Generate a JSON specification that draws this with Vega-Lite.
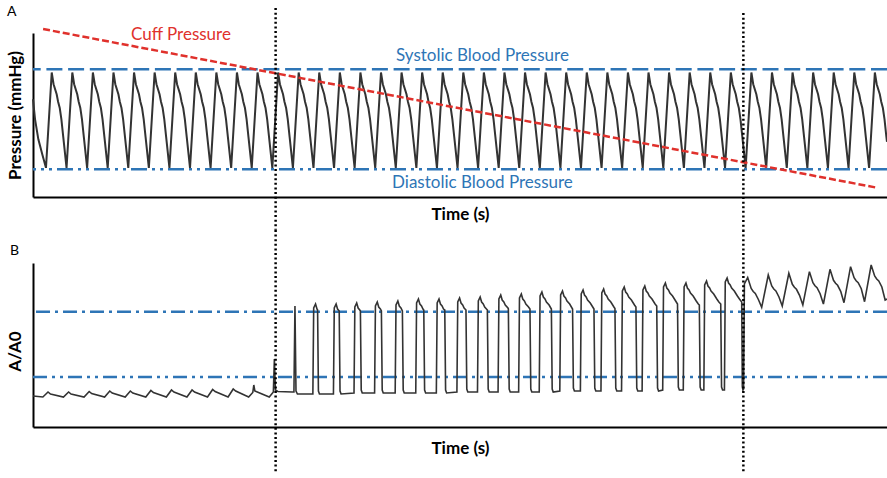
{
"$schema": "https://vega.github.io/schema/vega-lite/v6.json",
"padding": {"left": 5, "top": 5, "right": 0, "bottom": 0},
"bounds": "flush",
"spacing": 66,
"config": {
  "view": {"stroke": null},
  "font": "Lato",
  "axis": {"labels": false, "ticks": false, "grid": false, "domainColor": "#000000", "domainWidth": 2, "titleFont": "Lato", "titleFontSize": 17, "titleFontWeight": "bold", "titleColor": "#000000"},
  "title": {"font": "Lato", "fontSize": 14, "fontWeight": "normal", "color": "#000000", "anchor": "start", "frame": "group"}
},
"datasets": {
  "aWave": [
    {"t":0,"p":108},{"t":0.1,"p":100},{"t":0.26,"p":92},{"t":0.45,"p":86},
    {"t":0.63,"p":80.6},{"t":0.91,"p":118.7},{"t":1,"p":114},{"t":1.15,"p":110},{"t":1.22,"p":107},{"t":1.3,"p":104.5},{"t":1.38,"p":100},{"t":1.47,"p":93},
    {"t":1.63,"p":80.6},{"t":1.91,"p":118.7},{"t":2,"p":114},{"t":2.15,"p":110},{"t":2.22,"p":107},{"t":2.3,"p":104.5},{"t":2.38,"p":100},{"t":2.47,"p":93},
    {"t":2.63,"p":80.6},{"t":2.91,"p":118.7},{"t":3,"p":114},{"t":3.15,"p":110},{"t":3.22,"p":107},{"t":3.3,"p":104.5},{"t":3.38,"p":100},{"t":3.47,"p":93},
    {"t":3.63,"p":80.6},{"t":3.91,"p":118.7},{"t":4,"p":114},{"t":4.15,"p":110},{"t":4.22,"p":107},{"t":4.3,"p":104.5},{"t":4.38,"p":100},{"t":4.47,"p":93},
    {"t":4.63,"p":80.6},{"t":4.91,"p":118.7},{"t":5,"p":114},{"t":5.15,"p":110},{"t":5.22,"p":107},{"t":5.3,"p":104.5},{"t":5.38,"p":100},{"t":5.47,"p":93},
    {"t":5.63,"p":80.6},{"t":5.91,"p":118.7},{"t":6,"p":114},{"t":6.15,"p":110},{"t":6.22,"p":107},{"t":6.3,"p":104.5},{"t":6.38,"p":100},{"t":6.47,"p":93},
    {"t":6.63,"p":80.6},{"t":6.91,"p":118.7},{"t":7,"p":114},{"t":7.15,"p":110},{"t":7.22,"p":107},{"t":7.3,"p":104.5},{"t":7.38,"p":100},{"t":7.47,"p":93},
    {"t":7.63,"p":80.6},{"t":7.91,"p":118.7},{"t":8,"p":114},{"t":8.15,"p":110},{"t":8.22,"p":107},{"t":8.3,"p":104.5},{"t":8.38,"p":100},{"t":8.47,"p":93},
    {"t":8.63,"p":80.6},{"t":8.91,"p":118.7},{"t":9,"p":114},{"t":9.15,"p":110},{"t":9.22,"p":107},{"t":9.3,"p":104.5},{"t":9.38,"p":100},{"t":9.47,"p":93},
    {"t":9.63,"p":80.6},{"t":9.91,"p":118.7},{"t":10,"p":114},{"t":10.15,"p":110},{"t":10.22,"p":107},{"t":10.3,"p":104.5},{"t":10.38,"p":100},{"t":10.47,"p":93},
    {"t":10.63,"p":80.6},{"t":10.91,"p":118.7},{"t":11,"p":114},{"t":11.15,"p":110},{"t":11.22,"p":107},{"t":11.3,"p":104.5},{"t":11.38,"p":100},{"t":11.47,"p":93},
    {"t":11.63,"p":80.6},{"t":11.91,"p":118.7},{"t":12,"p":114},{"t":12.15,"p":110},{"t":12.22,"p":107},{"t":12.3,"p":104.5},{"t":12.38,"p":100},{"t":12.47,"p":93},
    {"t":12.63,"p":80.6},{"t":12.91,"p":118.7},{"t":13,"p":114},{"t":13.15,"p":110},{"t":13.22,"p":107},{"t":13.3,"p":104.5},{"t":13.38,"p":100},{"t":13.47,"p":93},
    {"t":13.63,"p":80.6},{"t":13.91,"p":118.7},{"t":14,"p":114},{"t":14.15,"p":110},{"t":14.22,"p":107},{"t":14.3,"p":104.5},{"t":14.38,"p":100},{"t":14.47,"p":93},
    {"t":14.63,"p":80.6},{"t":14.91,"p":118.7},{"t":15,"p":114},{"t":15.15,"p":110},{"t":15.22,"p":107},{"t":15.3,"p":104.5},{"t":15.38,"p":100},{"t":15.47,"p":93},
    {"t":15.63,"p":80.6},{"t":15.91,"p":118.7},{"t":16,"p":114},{"t":16.15,"p":110},{"t":16.22,"p":107},{"t":16.3,"p":104.5},{"t":16.38,"p":100},{"t":16.47,"p":93},
    {"t":16.63,"p":80.6},{"t":16.91,"p":118.7},{"t":17,"p":114},{"t":17.15,"p":110},{"t":17.22,"p":107},{"t":17.3,"p":104.5},{"t":17.38,"p":100},{"t":17.47,"p":93},
    {"t":17.63,"p":80.6},{"t":17.91,"p":118.7},{"t":18,"p":114},{"t":18.15,"p":110},{"t":18.22,"p":107},{"t":18.3,"p":104.5},{"t":18.38,"p":100},{"t":18.47,"p":93},
    {"t":18.63,"p":80.6},{"t":18.91,"p":118.7},{"t":19,"p":114},{"t":19.15,"p":110},{"t":19.22,"p":107},{"t":19.3,"p":104.5},{"t":19.38,"p":100},{"t":19.47,"p":93},
    {"t":19.63,"p":80.6},{"t":19.91,"p":118.7},{"t":20,"p":114},{"t":20.15,"p":110},{"t":20.22,"p":107},{"t":20.3,"p":104.5},{"t":20.38,"p":100},{"t":20.47,"p":93},
    {"t":20.63,"p":80.6},{"t":20.91,"p":118.7},{"t":21,"p":114},{"t":21.15,"p":110},{"t":21.22,"p":107},{"t":21.3,"p":104.5},{"t":21.38,"p":100},{"t":21.47,"p":93},
    {"t":21.63,"p":80.6},{"t":21.91,"p":118.7},{"t":22,"p":114},{"t":22.15,"p":110},{"t":22.22,"p":107},{"t":22.3,"p":104.5},{"t":22.38,"p":100},{"t":22.47,"p":93},
    {"t":22.63,"p":80.6},{"t":22.91,"p":118.7},{"t":23,"p":114},{"t":23.15,"p":110},{"t":23.22,"p":107},{"t":23.3,"p":104.5},{"t":23.38,"p":100},{"t":23.47,"p":93},
    {"t":23.63,"p":80.6},{"t":23.91,"p":118.7},{"t":24,"p":114},{"t":24.15,"p":110},{"t":24.22,"p":107},{"t":24.3,"p":104.5},{"t":24.38,"p":100},{"t":24.47,"p":93},
    {"t":24.63,"p":80.6},{"t":24.91,"p":118.7},{"t":25,"p":114},{"t":25.15,"p":110},{"t":25.22,"p":107},{"t":25.3,"p":104.5},{"t":25.38,"p":100},{"t":25.47,"p":93},
    {"t":25.63,"p":80.6},{"t":25.91,"p":118.7},{"t":26,"p":114},{"t":26.15,"p":110},{"t":26.22,"p":107},{"t":26.3,"p":104.5},{"t":26.38,"p":100},{"t":26.47,"p":93},
    {"t":26.63,"p":80.6},{"t":26.91,"p":118.7},{"t":27,"p":114},{"t":27.15,"p":110},{"t":27.22,"p":107},{"t":27.3,"p":104.5},{"t":27.38,"p":100},{"t":27.47,"p":93},
    {"t":27.63,"p":80.6},{"t":27.91,"p":118.7},{"t":28,"p":114},{"t":28.15,"p":110},{"t":28.22,"p":107},{"t":28.3,"p":104.5},{"t":28.38,"p":100},{"t":28.47,"p":93},
    {"t":28.63,"p":80.6},{"t":28.91,"p":118.7},{"t":29,"p":114},{"t":29.15,"p":110},{"t":29.22,"p":107},{"t":29.3,"p":104.5},{"t":29.38,"p":100},{"t":29.47,"p":93},
    {"t":29.63,"p":80.6},{"t":29.91,"p":118.7},{"t":30,"p":114},{"t":30.15,"p":110},{"t":30.22,"p":107},{"t":30.3,"p":104.5},{"t":30.38,"p":100},{"t":30.47,"p":93},
    {"t":30.63,"p":80.6},{"t":30.91,"p":118.7},{"t":31,"p":114},{"t":31.15,"p":110},{"t":31.22,"p":107},{"t":31.3,"p":104.5},{"t":31.38,"p":100},{"t":31.47,"p":93},
    {"t":31.63,"p":80.6},{"t":31.91,"p":118.7},{"t":32,"p":114},{"t":32.15,"p":110},{"t":32.22,"p":107},{"t":32.3,"p":104.5},{"t":32.38,"p":100},{"t":32.47,"p":93},
    {"t":32.63,"p":80.6},{"t":32.91,"p":118.7},{"t":33,"p":114},{"t":33.15,"p":110},{"t":33.22,"p":107},{"t":33.3,"p":104.5},{"t":33.38,"p":100},{"t":33.47,"p":93},
    {"t":33.63,"p":80.6},{"t":33.91,"p":118.7},{"t":34,"p":114},{"t":34.15,"p":110},{"t":34.22,"p":107},{"t":34.3,"p":104.5},{"t":34.38,"p":100},{"t":34.47,"p":93},
    {"t":34.63,"p":80.6},{"t":34.91,"p":118.7},{"t":35,"p":114},{"t":35.15,"p":110},{"t":35.22,"p":107},{"t":35.3,"p":104.5},{"t":35.38,"p":100},{"t":35.47,"p":93},
    {"t":35.63,"p":80.6},{"t":35.91,"p":118.7},{"t":36,"p":114},{"t":36.15,"p":110},{"t":36.22,"p":107},{"t":36.3,"p":104.5},{"t":36.38,"p":100},{"t":36.47,"p":93},
    {"t":36.63,"p":80.6},{"t":36.91,"p":118.7},{"t":37,"p":114},{"t":37.15,"p":110},{"t":37.22,"p":107},{"t":37.3,"p":104.5},{"t":37.38,"p":100},{"t":37.47,"p":93},
    {"t":37.63,"p":80.6},{"t":37.91,"p":118.7},{"t":38,"p":114},{"t":38.15,"p":110},{"t":38.22,"p":107},{"t":38.3,"p":104.5},{"t":38.38,"p":100},{"t":38.47,"p":93},
    {"t":38.63,"p":80.6},{"t":38.91,"p":118.7},{"t":39,"p":114},{"t":39.15,"p":110},{"t":39.22,"p":107},{"t":39.3,"p":104.5},{"t":39.38,"p":100},{"t":39.47,"p":93},
    {"t":39.63,"p":80.6},{"t":39.91,"p":118.7},{"t":40,"p":114},{"t":40.15,"p":110},{"t":40.22,"p":107},{"t":40.3,"p":104.5},{"t":40.38,"p":100},{"t":40.47,"p":93},
    {"t":40.63,"p":80.6},{"t":40.91,"p":118.7},{"t":41,"p":114},{"t":41.15,"p":110},{"t":41.22,"p":107},{"t":41.3,"p":104.5},{"t":41.38,"p":100},{"t":41.47,"p":93},
    {"t":41.5,"p":91}
  ],
  "bWave": [
    {"t":0,"v":0.31},
    {"t":0.48,"v":0.3},{"t":0.73,"v":0.35},{"t":0.85,"v":0.33},
    {"t":1.48,"v":0.3},{"t":1.73,"v":0.35},{"t":1.85,"v":0.33},
    {"t":2.48,"v":0.3},{"t":2.73,"v":0.355},{"t":2.85,"v":0.335},
    {"t":3.48,"v":0.3},{"t":3.73,"v":0.36},{"t":3.85,"v":0.34},
    {"t":4.48,"v":0.3},{"t":4.73,"v":0.36},{"t":4.85,"v":0.34},
    {"t":5.48,"v":0.3},{"t":5.73,"v":0.365},{"t":5.85,"v":0.345},
    {"t":6.48,"v":0.3},{"t":6.73,"v":0.37},{"t":6.85,"v":0.35},
    {"t":7.48,"v":0.3},{"t":7.73,"v":0.37},{"t":7.85,"v":0.35},
    {"t":8.48,"v":0.3},{"t":8.73,"v":0.375},{"t":8.85,"v":0.355},
    {"t":9.48,"v":0.3},{"t":9.73,"v":0.38},{"t":9.85,"v":0.36},
    {"t":10.48,"v":0.3},{"t":10.68,"v":0.345},{"t":10.73,"v":0.42},{"t":10.78,"v":0.36},{"t":10.9,"v":0.35},
    {"t":11.48,"v":0.3},{"t":11.68,"v":0.35},{"t":11.73,"v":0.68},{"t":11.78,"v":0.37},{"t":11.9,"v":0.355},
    {"t":12.6,"v":0.35},{"t":12.68,"v":0.35},{"t":12.73,"v":1.21},{"t":12.78,"v":0.36},{"t":12.85,"v":0.33},
    {"t":13.6,"v":0.33},{"t":13.64,"v":1.19},{"t":13.73,"v":1.23},{"t":13.8,"v":1.18},{"t":13.83,"v":1.17},{"t":13.87,"v":0.36},{"t":13.92,"v":0.33},
    {"t":14.6,"v":0.33},{"t":14.64,"v":1.19},{"t":14.73,"v":1.23},{"t":14.8,"v":1.18},{"t":14.88,"v":1.16},{"t":14.92,"v":0.36},{"t":14.97,"v":0.33},
    {"t":15.6,"v":0.34},{"t":15.64,"v":1.2},{"t":15.73,"v":1.24},{"t":15.8,"v":1.19},{"t":15.88,"v":1.17},{"t":15.91,"v":1.16},{"t":15.95,"v":0.37},{"t":16,"v":0.34},
    {"t":16.6,"v":0.34},{"t":16.64,"v":1.21},{"t":16.73,"v":1.25},{"t":16.8,"v":1.2},{"t":16.88,"v":1.18},{"t":16.93,"v":1.16},{"t":16.97,"v":0.37},{"t":17.02,"v":0.34},
    {"t":17.6,"v":0.34},{"t":17.64,"v":1.22},{"t":17.73,"v":1.26},{"t":17.8,"v":1.21},{"t":17.88,"v":1.19},{"t":17.95,"v":1.16},{"t":17.99,"v":0.37},{"t":18.04,"v":0.34},
    {"t":18.6,"v":0.34},{"t":18.64,"v":1.24},{"t":18.73,"v":1.28},{"t":18.8,"v":1.23},{"t":18.88,"v":1.21},{"t":18.95,"v":1.18},{"t":18.99,"v":1.17},{"t":19.03,"v":0.37},{"t":19.08,"v":0.34},
    {"t":19.6,"v":0.34},{"t":19.64,"v":1.24},{"t":19.73,"v":1.28},{"t":19.8,"v":1.23},{"t":19.88,"v":1.21},{"t":19.95,"v":1.18},{"t":20.01,"v":1.17},{"t":20.05,"v":0.37},{"t":20.1,"v":0.34},
    {"t":20.6,"v":0.35},{"t":20.64,"v":1.25},{"t":20.73,"v":1.29},{"t":20.8,"v":1.24},{"t":20.88,"v":1.22},{"t":20.95,"v":1.19},{"t":21.04,"v":1.17},{"t":21.08,"v":0.38},{"t":21.13,"v":0.35},
    {"t":21.6,"v":0.35},{"t":21.64,"v":1.26},{"t":21.73,"v":1.3},{"t":21.8,"v":1.25},{"t":21.88,"v":1.23},{"t":21.95,"v":1.2},{"t":22.08,"v":1.17},{"t":22.12,"v":0.38},{"t":22.17,"v":0.35},
    {"t":22.6,"v":0.35},{"t":22.64,"v":1.28},{"t":22.73,"v":1.32},{"t":22.8,"v":1.27},{"t":22.88,"v":1.25},{"t":22.95,"v":1.22},{"t":23.08,"v":1.19},{"t":23.1,"v":1.18},{"t":23.14,"v":0.38},{"t":23.19,"v":0.35},
    {"t":23.6,"v":0.35},{"t":23.64,"v":1.29},{"t":23.73,"v":1.33},{"t":23.8,"v":1.28},{"t":23.88,"v":1.26},{"t":23.95,"v":1.23},{"t":24.08,"v":1.2},{"t":24.15,"v":1.18},{"t":24.19,"v":0.38},{"t":24.24,"v":0.35},
    {"t":24.6,"v":0.35},{"t":24.64,"v":1.31},{"t":24.73,"v":1.35},{"t":24.8,"v":1.3},{"t":24.88,"v":1.28},{"t":24.95,"v":1.25},{"t":25.08,"v":1.22},{"t":25.19,"v":1.18},{"t":25.23,"v":0.38},{"t":25.28,"v":0.35},
    {"t":25.6,"v":0.36},{"t":25.64,"v":1.32},{"t":25.73,"v":1.36},{"t":25.8,"v":1.31},{"t":25.88,"v":1.29},{"t":25.95,"v":1.26},{"t":26.08,"v":1.23},{"t":26.22,"v":1.18},{"t":26.26,"v":0.39},{"t":26.31,"v":0.36},
    {"t":26.6,"v":0.36},{"t":26.64,"v":1.33},{"t":26.73,"v":1.37},{"t":26.8,"v":1.32},{"t":26.88,"v":1.3},{"t":26.95,"v":1.27},{"t":27.08,"v":1.24},{"t":27.23,"v":1.19},{"t":27.26,"v":1.18},{"t":27.3,"v":0.39},{"t":27.35,"v":0.36},
    {"t":27.6,"v":0.36},{"t":27.64,"v":1.34},{"t":27.73,"v":1.38},{"t":27.8,"v":1.33},{"t":27.88,"v":1.31},{"t":27.95,"v":1.28},{"t":28.08,"v":1.25},{"t":28.23,"v":1.2},{"t":28.28,"v":1.185},{"t":28.32,"v":0.39},{"t":28.37,"v":0.36},
    {"t":28.6,"v":0.36},{"t":28.64,"v":1.36},{"t":28.73,"v":1.4},{"t":28.8,"v":1.35},{"t":28.88,"v":1.33},{"t":28.95,"v":1.3},{"t":29.08,"v":1.27},{"t":29.23,"v":1.22},{"t":29.3,"v":1.2},{"t":29.34,"v":0.39},{"t":29.39,"v":0.36},
    {"t":29.6,"v":0.36},{"t":29.64,"v":1.37},{"t":29.73,"v":1.41},{"t":29.8,"v":1.36},{"t":29.88,"v":1.34},{"t":29.95,"v":1.31},{"t":30.08,"v":1.28},{"t":30.23,"v":1.23},{"t":30.31,"v":1.21},{"t":30.35,"v":0.39},{"t":30.4,"v":0.36},
    {"t":30.6,"v":0.37},{"t":30.64,"v":1.4},{"t":30.73,"v":1.44},{"t":30.8,"v":1.39},{"t":30.88,"v":1.37},{"t":30.95,"v":1.34},{"t":31.08,"v":1.31},{"t":31.23,"v":1.26},{"t":31.32,"v":1.23},{"t":31.36,"v":0.4},{"t":31.41,"v":0.37},
    {"t":31.6,"v":0.37},{"t":31.64,"v":1.4},{"t":31.73,"v":1.44},{"t":31.8,"v":1.39},{"t":31.88,"v":1.37},{"t":31.95,"v":1.34},{"t":32.08,"v":1.31},{"t":32.23,"v":1.26},{"t":32.33,"v":1.23},{"t":32.38,"v":1.22},{"t":32.42,"v":0.4},{"t":32.47,"v":0.37},
    {"t":32.6,"v":0.37},{"t":32.64,"v":1.42},{"t":32.73,"v":1.46},{"t":32.8,"v":1.41},{"t":32.88,"v":1.39},{"t":32.95,"v":1.36},{"t":33.08,"v":1.33},{"t":33.23,"v":1.28},{"t":33.33,"v":1.25},{"t":33.42,"v":1.23},{"t":33.46,"v":0.4},{"t":33.51,"v":0.37},
    {"t":33.6,"v":0.37},{"t":33.64,"v":1.45},{"t":33.73,"v":1.49},{"t":33.8,"v":1.44},{"t":33.88,"v":1.42},{"t":33.95,"v":1.39},{"t":34.08,"v":1.36},{"t":34.23,"v":1.31},{"t":34.33,"v":1.28},{"t":34.44,"v":1.25},{"t":34.47,"v":0.4},{"t":34.5,"v":0.37},
    {"t":34.53,"v":0.38},{"t":34.57,"v":1.43},{"t":34.73,"v":1.495},{"t":34.9,"v":1.385},{"t":35,"v":1.355},{"t":35.1,"v":1.335},{"t":35.25,"v":1.275},{"t":35.41,"v":1.197},
    {"t":35.73,"v":1.52},{"t":35.9,"v":1.41},{"t":36,"v":1.38},{"t":36.1,"v":1.36},{"t":36.25,"v":1.3},{"t":36.41,"v":1.21},
    {"t":36.73,"v":1.537},{"t":36.9,"v":1.427},{"t":37,"v":1.397},{"t":37.1,"v":1.377},{"t":37.25,"v":1.317},{"t":37.41,"v":1.22},
    {"t":37.73,"v":1.553},{"t":37.9,"v":1.443},{"t":38,"v":1.413},{"t":38.1,"v":1.393},{"t":38.25,"v":1.333},{"t":38.41,"v":1.23},
    {"t":38.73,"v":1.577},{"t":38.9,"v":1.467},{"t":39,"v":1.437},{"t":39.1,"v":1.417},{"t":39.25,"v":1.357},{"t":39.41,"v":1.243},
    {"t":39.73,"v":1.603},{"t":39.9,"v":1.493},{"t":40,"v":1.463},{"t":40.1,"v":1.443},{"t":40.25,"v":1.383},{"t":40.41,"v":1.253},
    {"t":40.73,"v":1.62},{"t":40.9,"v":1.51},{"t":41,"v":1.48},{"t":41.1,"v":1.46},{"t":41.25,"v":1.4},{"t":41.41,"v":1.27},{"t":41.5,"v":1.28}
  ],
  "cuff": [{"t":0.49,"p":136.07},{"t":41.01,"p":72.66}],
  "aMarkers": [{"t":11.79,"top":144.45,"bottom":55.91},{"t":34.52,"top":142.45,"bottom":55.91}],
  "bMarkers": [{"t":11.79,"top":1.97,"bottom":-0.46},{"t":34.52,"top":1.97,"bottom":-0.45}]
},
"vconcat": [
  {
    "width": 854,
    "height": 164,
    "title": {"text": "A", "dx": -26, "dy": 23.5, "offset": 0, "baseline": "alphabetic"},
    "layer": [
      {
        "data": {"values": [{"p": 120}]},
        "mark": {"type": "rule", "stroke": "#2e75b6", "strokeWidth": 2.5, "strokeDash": [16, 5.7]},
        "encoding": {"y": {"field": "p", "type": "quantitative", "scale": {"domain": [68.95, 134.48], "nice": false, "zero": false}, "axis": {"title": "Pressure (mmHg)", "titlePadding": 9}}}
      },
      {
        "data": {"values": [{"p": 80}]},
        "mark": {"type": "rule", "stroke": "#2e75b6", "strokeWidth": 2.5, "strokeDash": [16, 5, 3, 5, 3, 5]},
        "encoding": {"y": {"field": "p", "type": "quantitative", "axis": {"title": "Pressure (mmHg)", "titlePadding": 9}}}
      },
      {
        "data": {"name": "aWave"},
        "mark": {"type": "line", "stroke": "#333333", "strokeWidth": 2},
        "encoding": {
          "x": {"field": "t", "type": "quantitative", "scale": {"domain": [0, 41.5], "nice": false, "zero": false}, "axis": {"title": "Time (s)", "titlePadding": 9}},
          "y": {"field": "p", "type": "quantitative", "axis": {"title": "Pressure (mmHg)", "titlePadding": 9}}
        }
      },
      {
        "data": {"name": "cuff"},
        "mark": {"type": "line", "stroke": "#e0312c", "strokeWidth": 2.5, "strokeDash": [7, 3]},
        "encoding": {"x": {"field": "t", "type": "quantitative", "axis": {"title": "Time (s)", "titlePadding": 9}}, "y": {"field": "p", "type": "quantitative", "axis": {"title": "Pressure (mmHg)", "titlePadding": 9}}}
      },
      {
        "data": {"name": "aMarkers"},
        "mark": {"type": "rule", "stroke": "#000000", "strokeWidth": 2.5, "strokeDash": [2, 2.6]},
        "encoding": {"x": {"field": "t", "type": "quantitative", "axis": {"title": "Time (s)", "titlePadding": 9}}, "y": {"field": "top", "type": "quantitative", "axis": {"title": "Pressure (mmHg)", "titlePadding": 9}}, "y2": {"field": "bottom"}}
      },
      {
        "data": {"values": [{"t": 7.19, "p": 131.88, "label": "Cuff Pressure"}]},
        "mark": {"type": "text", "color": "#e0312c", "font": "Lato", "fontSize": 17, "align": "center", "baseline": "alphabetic"},
        "encoding": {"x": {"field": "t", "type": "quantitative", "axis": {"title": "Time (s)", "titlePadding": 9}}, "y": {"field": "p", "type": "quantitative", "axis": {"title": "Pressure (mmHg)", "titlePadding": 9}}, "text": {"field": "label"}}
      },
      {
        "data": {"values": [{"t": 21.84, "p": 123.43, "label": "Systolic Blood Pressure"}, {"t": 21.84, "p": 72.54, "label": "Diastolic Blood Pressure"}]},
        "mark": {"type": "text", "color": "#2e75b6", "font": "Lato", "fontSize": 17, "align": "center", "baseline": "alphabetic"},
        "encoding": {"x": {"field": "t", "type": "quantitative", "axis": {"title": "Time (s)", "titlePadding": 9}}, "y": {"field": "p", "type": "quantitative", "axis": {"title": "Pressure (mmHg)", "titlePadding": 9}}, "text": {"field": "label"}}
      }
    ]
  },
  {
    "width": 854,
    "height": 164,
    "title": {"text": "B", "dx": -23, "dy": 39.9, "offset": 0, "baseline": "alphabetic"},
    "layer": [
      {
        "data": {"values": [{"v": 1.152}]},
        "mark": {"type": "rule", "stroke": "#2e75b6", "strokeWidth": 2.5, "strokeDash": [14, 5, 3, 5]},
        "encoding": {"y": {"field": "v", "type": "quantitative", "scale": {"domain": [0, 1.64], "nice": false, "zero": false}, "axis": {"title": "A/A0", "titlePadding": 9, "titleY": 88}}}
      },
      {
        "data": {"values": [{"v": 0.5}]},
        "mark": {"type": "rule", "stroke": "#2e75b6", "strokeWidth": 2.5, "strokeDash": [14, 5, 3, 5, 3, 5]},
        "encoding": {"y": {"field": "v", "type": "quantitative", "axis": {"title": "A/A0", "titlePadding": 9, "titleY": 88}}}
      },
      {
        "data": {"name": "bWave"},
        "mark": {"type": "line", "stroke": "#333333", "strokeWidth": 1.6},
        "encoding": {
          "x": {"field": "t", "type": "quantitative", "scale": {"domain": [0, 41.5], "nice": false, "zero": false}, "axis": {"title": "Time (s)", "titlePadding": 13}},
          "y": {"field": "v", "type": "quantitative", "axis": {"title": "A/A0", "titlePadding": 9, "titleY": 88}}
        }
      },
      {
        "data": {"name": "bMarkers"},
        "mark": {"type": "rule", "stroke": "#000000", "strokeWidth": 2.5, "strokeDash": [2, 2.6]},
        "encoding": {"x": {"field": "t", "type": "quantitative", "axis": {"title": "Time (s)", "titlePadding": 13}}, "y": {"field": "top", "type": "quantitative", "axis": {"title": "A/A0", "titlePadding": 9, "titleY": 88}}, "y2": {"field": "bottom"}}
      }
    ]
  }
]
}
